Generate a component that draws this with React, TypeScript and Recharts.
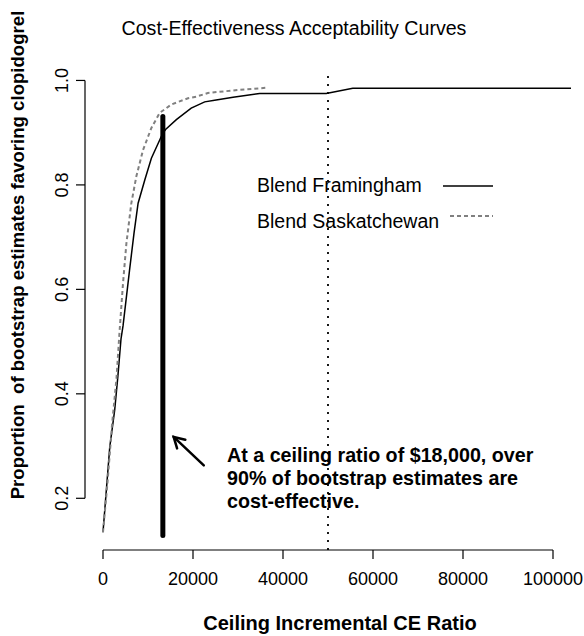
import { ComposedChart, Line, XAxis, YAxis, ReferenceLine, Legend } from 'recharts';

// Ceiling ratio ($) and proportion of bootstrap estimates favouring clopidogrel
const framinghamX = [0, 1500, 2600, 3300, 4000, 4450, 5900, 6900, 7800, 9300, 10750, 12600, 13300, 13900, 16300, 19600, 22600, 24800, 28900, 34800, 49600, 55500, 104000];
const framinghamY = [0.135, 0.298, 0.369, 0.433, 0.505, 0.53, 0.637, 0.708, 0.765, 0.81, 0.851, 0.886, 0.899, 0.906, 0.925, 0.947, 0.959, 0.962, 0.968, 0.975, 0.975, 0.985, 0.985];

const saskatchewanX = [0, 1000, 2000, 3000, 3700, 4450, 5200, 6300, 7400, 8900, 10750, 12600, 14100, 15200, 18900, 20750, 23300, 25550, 30400, 36300];
const saskatchewanY = [0.135, 0.23, 0.34, 0.43, 0.522, 0.612, 0.688, 0.765, 0.816, 0.867, 0.909, 0.938, 0.947, 0.954, 0.966, 0.969, 0.976, 0.978, 0.982, 0.986];

const xTicks = [0, 20000, 40000, 60000, 80000, 100000];
const yTicks = [0.2, 0.4, 0.6, 0.8, 1.0];

const xDomain = [-4000, 104000];
const yDomain = [0.101, 1.02];

// highlighted ceiling ratio bar and the arrow pointing at it
const barX = 13300;
const barRange = [0.129, 0.931];
const arrowFrom = { x: 22400, y: 0.263 };
const arrowTo = { x: 15700, y: 0.3175 };
const thresholdX = 50000;

const framinghamData = framinghamX.map((x, i) => ({ x, y: framinghamY[i] }));
const saskatchewanData = saskatchewanX.map((x, i) => ({ x, y: saskatchewanY[i] }));

const FONT = '"Liberation Sans", Arial, Helvetica, sans-serif';

const XTick = (props: any) => {
  const { x, y, payload } = props;
  return (
    <text x={x} y={y + 24} textAnchor="middle" fontSize={18} fontFamily={FONT} fill="#000">
      {payload.value}
    </text>
  );
};

const YTick = (props: any) => {
  const { x, y, payload } = props;
  const tx = x - 6;
  return (
    <text
      x={tx}
      y={y}
      textAnchor="middle"
      fontSize={18}
      fontFamily={FONT}
      fill="#000"
      transform={`rotate(-90 ${tx} ${y})`}
    >
      {Number(payload.value).toFixed(1)}
    </text>
  );
};

const ArrowShape = (props: any) => {
  const { x1, y1, x2, y2 } = props;
  if (x1 == null || x2 == null) return null;
  const ang = Math.atan2(y2 - y1, x2 - x1);
  const len = 12;
  const spread = Math.PI / 6;
  const w1x = x2 - len * Math.cos(ang - spread);
  const w1y = y2 - len * Math.sin(ang - spread);
  const w2x = x2 - len * Math.cos(ang + spread);
  const w2y = y2 - len * Math.sin(ang + spread);
  return (
    <g stroke="#000" strokeWidth={2.5} fill="none" strokeLinecap="round">
      <line x1={x1} y1={y1} x2={x2} y2={y2} />
      <polyline points={`${w1x},${w1y} ${x2},${y2} ${w2x},${w2y}`} />
    </g>
  );
};

const LegendBox = () => (
  <svg width={584} height={240} style={{ position: 'absolute', left: 0, top: 0 }}>
    <text x={257} y={192} fontSize={19.5} fontFamily={FONT} fill="#000">Blend Framingham</text>
    <line x1={443} y1={186} x2={493} y2={186} stroke="#000" strokeWidth={1.5} />
    <text x={257} y={228} fontSize={19.5} fontFamily={FONT} fill="#000">Blend Saskatchewan</text>
    <line x1={450} y1={216} x2={493} y2={216} stroke="#808080" strokeWidth={2} strokeDasharray="4 3" />
  </svg>
);

export default function App() {
  return (
    <div style={{ position: 'absolute', left: 0, top: 0, width: 584, height: 636, background: '#fff', overflow: 'hidden' }}>
      <ComposedChart width={584} height={636} margin={{ top: 70, right: 13, left: 0, bottom: 0 }}>
        <XAxis
          type="number"
          dataKey="x"
          domain={xDomain}
          allowDataOverflow
          ticks={xTicks}
          tick={<XTick />}
          tickSize={9}
          tickLine={{ stroke: '#000', strokeWidth: 1.2 }}
          axisLine={false}
          height={86}
        />
        <YAxis
          type="number"
          dataKey="y"
          domain={yDomain}
          allowDataOverflow
          ticks={yTicks}
          tick={<YTick />}
          tickSize={9}
          tickLine={{ stroke: '#000', strokeWidth: 1.2 }}
          axisLine={false}
          width={85}
        />
        <ReferenceLine
          segment={[{ x: xTicks[0], y: yDomain[0] }, { x: xTicks[xTicks.length - 1], y: yDomain[0] }]}
          stroke="#000"
          strokeWidth={1.2}
          ifOverflow="visible"
        />
        <ReferenceLine
          segment={[{ x: xDomain[0], y: yTicks[0] }, { x: xDomain[0], y: yTicks[yTicks.length - 1] }]}
          stroke="#000"
          strokeWidth={1.2}
          ifOverflow="visible"
        />
        <ReferenceLine x={thresholdX} stroke="#000" strokeWidth={1.8} strokeDasharray="2 6" />
        <Line
          data={framinghamData}
          dataKey="y"
          type="linear"
          stroke="#000"
          strokeWidth={1.5}
          dot={false}
          isAnimationActive={false}
          legendType="none"
        />
        <Line
          data={saskatchewanData}
          dataKey="y"
          type="linear"
          stroke="#808080"
          strokeWidth={2}
          strokeDasharray="4 3"
          dot={false}
          isAnimationActive={false}
          legendType="none"
        />
        <ReferenceLine
          segment={[{ x: barX, y: barRange[0] }, { x: barX, y: barRange[1] }]}
          stroke="#000"
          strokeWidth={5}
          strokeLinecap="round"
        />
        <ReferenceLine segment={[arrowFrom, arrowTo]} shape={<ArrowShape />} />
        <Legend
          layout="horizontal"
          verticalAlign="middle"
          align="center"
          content={<LegendBox />}
          wrapperStyle={{ left: 0, top: 0, width: 584, height: 240 }}
        />
      </ComposedChart>
      <svg width={584} height={636} style={{ position: 'absolute', left: 0, top: 0, pointerEvents: 'none' }}>
        <text x={294} y={35} textAnchor="middle" fontSize={19.6} fontFamily={FONT} fill="#000">
          Cost-Effectiveness Acceptability Curves
        </text>
        <text
          x={24}
          y={255}
          textAnchor="middle"
          fontSize={18.6}
          fontWeight="bold"
          fontFamily={FONT}
          fill="#000"
          style={{ whiteSpace: 'pre' }}
          transform="rotate(-90 24 255)"
        >
          {'Proportion  of bootstrap estimates favoring clopidogrel'}
        </text>
        <text x={340} y={630} textAnchor="middle" fontSize={20} fontWeight="bold" fontFamily={FONT} fill="#000">
          Ceiling Incremental CE Ratio
        </text>
        <g fontSize={19.7} fontWeight="bold" fontFamily={FONT} fill="#000">
          <text x={227} y={462}>At a ceiling ratio of $18,000, over</text>
          <text x={227} y={485}>90% of bootstrap estimates are</text>
          <text x={227} y={508}>cost-effective.</text>
        </g>
      </svg>
    </div>
  );
}
